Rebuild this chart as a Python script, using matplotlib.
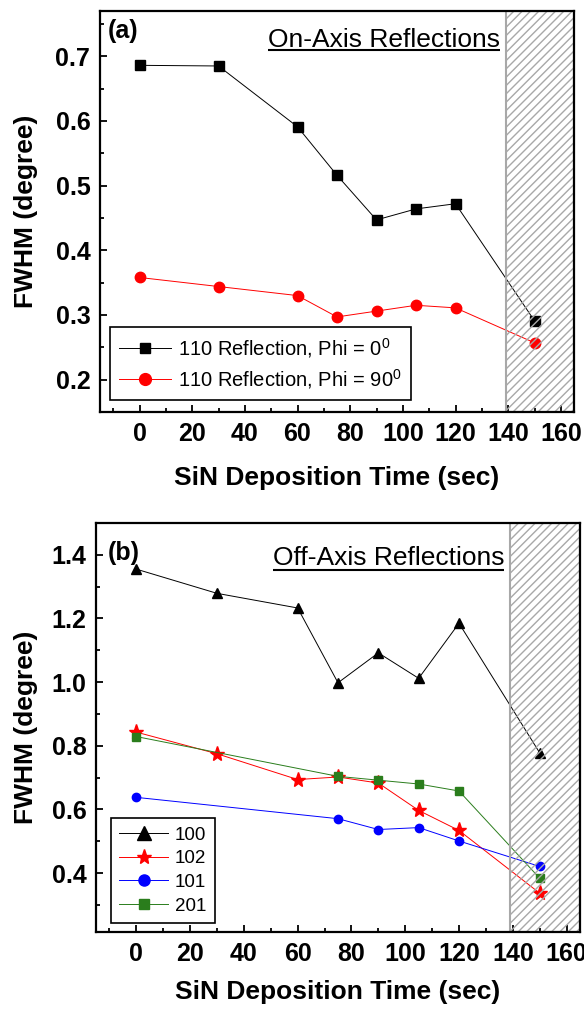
import matplotlib
matplotlib.use('Agg')
import matplotlib.pyplot as plt
from matplotlib.ticker import MultipleLocator, FormatStrFormatter

plt.rcParams['font.family'] = ['Liberation Sans', 'DejaVu Sans']
plt.rcParams['mathtext.fontset'] = 'custom'
plt.rcParams['mathtext.rm'] = 'Liberation Sans'
plt.rcParams['hatch.linewidth'] = 1.0

# panel (a): on-axis 110 reflection
time_a = [0, 30, 60, 75, 90, 105, 120, 150]
phi0 = [0.686, 0.685, 0.591, 0.516, 0.447, 0.464, 0.472, 0.291]
phi90 = [0.358, 0.344, 0.330, 0.297, 0.306, 0.315, 0.311, 0.257]

# panel (b): off-axis reflections
time_100 = [0, 30, 60, 75, 90, 105, 120, 150]
fwhm_100 = [1.355, 1.279, 1.233, 0.998, 1.092, 1.012, 1.185, 0.778]
time_102 = [0, 30, 60, 75, 90, 105, 120, 150]
fwhm_102 = [0.843, 0.775, 0.694, 0.702, 0.683, 0.597, 0.534, 0.337]
time_101 = [0, 75, 90, 105, 120, 150]
fwhm_101 = [0.638, 0.571, 0.537, 0.543, 0.501, 0.421]
time_201 = [0, 75, 90, 105, 120, 150]
fwhm_201 = [0.829, 0.704, 0.692, 0.680, 0.658, 0.384]

shade_from = 139
xlim = (-15, 165)
green = '#2a7d1c'

fig = plt.figure(figsize=(5.84, 10.09), dpi=100)
ax_a = fig.add_axes([100/584, (1009-412)/1009, 474/584, 401/1009])
ax_b = fig.add_axes([96/584, (1009-932)/1009, 484/584, 409/1009])


def style_axes(ax, ymaj, ymin):
    ax.set_xlim(*xlim)
    ax.xaxis.set_major_locator(MultipleLocator(20))
    ax.xaxis.set_minor_locator(MultipleLocator(10))
    ax.yaxis.set_major_locator(MultipleLocator(ymaj))
    ax.yaxis.set_minor_locator(MultipleLocator(ymin))
    ax.yaxis.set_major_formatter(FormatStrFormatter('%.1f'))
    ax.tick_params(which='both', direction='in', top=False, right=False, width=1.3)
    ax.tick_params(which='major', length=5, labelsize=18, pad=7)
    ax.tick_params(which='minor', length=3)
    for lab in ax.get_xticklabels() + ax.get_yticklabels():
        lab.set_fontweight('bold')
    for sp in ax.spines.values():
        sp.set_linewidth(1.6)
        sp.set_zorder(10)
    ax.axvspan(shade_from, xlim[1], facecolor='none', edgecolor='#a8a8a8',
               hatch='////', lw=1.5, zorder=5)
    ax.set_xlabel('SiN Deposition Time (sec)', fontsize=19, fontweight='bold')
    ax.set_ylabel('FWHM (degree)', fontsize=19, fontweight='bold')


# ---- panel (a)
ax_a.plot(time_a, phi0, '-s', color='k', lw=0.7, ms=7, zorder=3,
          label=r'110 Reflection, Phi = 0$^\mathregular{0}$')
ax_a.plot(time_a, phi90, '-o', color='red', lw=0.7, ms=7.5, zorder=3,
          label=r'110 Reflection, Phi = 90$^\mathregular{0}$')
ax_a.set_ylim(0.15, 0.77)
style_axes(ax_a, 0.1, 0.05)
ax_a.xaxis.set_label_coords(0.5, -0.135)
ax_a.yaxis.set_label_coords(-0.13, 0.5)
leg_a = ax_a.legend(loc='lower left', bbox_to_anchor=(0.021, 0.03), borderaxespad=0,
                    fontsize=14.5, handlelength=2.6, handletextpad=0.35,
                    labelspacing=0.35, borderpad=0.45, fancybox=False,
                    edgecolor='k', framealpha=1)
leg_a.get_frame().set_linewidth(1.2)
leg_a.set_zorder(20)
for h, ms in zip(leg_a.legend_handles, [6.5, 8.5]):
    h.set_markersize(ms)
ax_a.text(0.017, 0.95, '(a)', transform=ax_a.transAxes, fontsize=18,
          fontweight='bold', va='center', ha='left')
t_a = ax_a.text(0.844, 0.910, 'On-Axis Reflections', transform=ax_a.transAxes,
                fontsize=19, ha='right', va='baseline')

# ---- panel (b)
ax_b.plot(time_100, fwhm_100, '-^', color='k', lw=0.7, ms=7.5, zorder=3, label='100')
ax_b.plot(time_102, fwhm_102, '-*', color='red', lw=0.7, ms=11, zorder=3, label='102')
ax_b.plot(time_101, fwhm_101, '-o', color='blue', lw=0.7, ms=6, zorder=3, label='101')
ax_b.plot(time_201, fwhm_201, '-s', color=green, lw=0.7, ms=5.5, zorder=3, label='201')
ax_b.set_ylim(0.215, 1.5)
style_axes(ax_b, 0.2, 0.1)
ax_b.xaxis.set_label_coords(0.5, -0.117)
ax_b.yaxis.set_label_coords(-0.12, 0.5)
leg_b = ax_b.legend(loc='lower left', bbox_to_anchor=(0.031, 0.022), borderaxespad=0,
                    fontsize=13.5, handlelength=2.6, handletextpad=0.35,
                    labelspacing=0.35, borderpad=0.45, fancybox=False,
                    edgecolor='k', framealpha=1)
leg_b.get_frame().set_linewidth(1.2)
leg_b.set_zorder(20)
for h, ms in zip(leg_b.legend_handles, [9.5, 11, 8, 6.5]):
    h.set_markersize(ms)
ax_b.text(0.025, 0.927, '(b)', transform=ax_b.transAxes, fontsize=18,
          fontweight='bold', va='center', ha='left')
t_b = ax_b.text(0.843, 0.897, 'Off-Axis Reflections', transform=ax_b.transAxes,
                fontsize=19, ha='right', va='baseline')

# underline the panel titles
fig.canvas.draw()
renderer = fig.canvas.get_renderer()
for ax, t, y in [(ax_a, t_a, 0.902), (ax_b, t_b, 0.884)]:
    bb = t.get_window_extent(renderer).transformed(ax.transAxes.inverted())
    ax.plot([bb.x0, bb.x1], [y, y], transform=ax.transAxes, color='k',
            lw=1.5, clip_on=False, solid_capstyle='butt')

fig.savefig('out.png', dpi=100)
